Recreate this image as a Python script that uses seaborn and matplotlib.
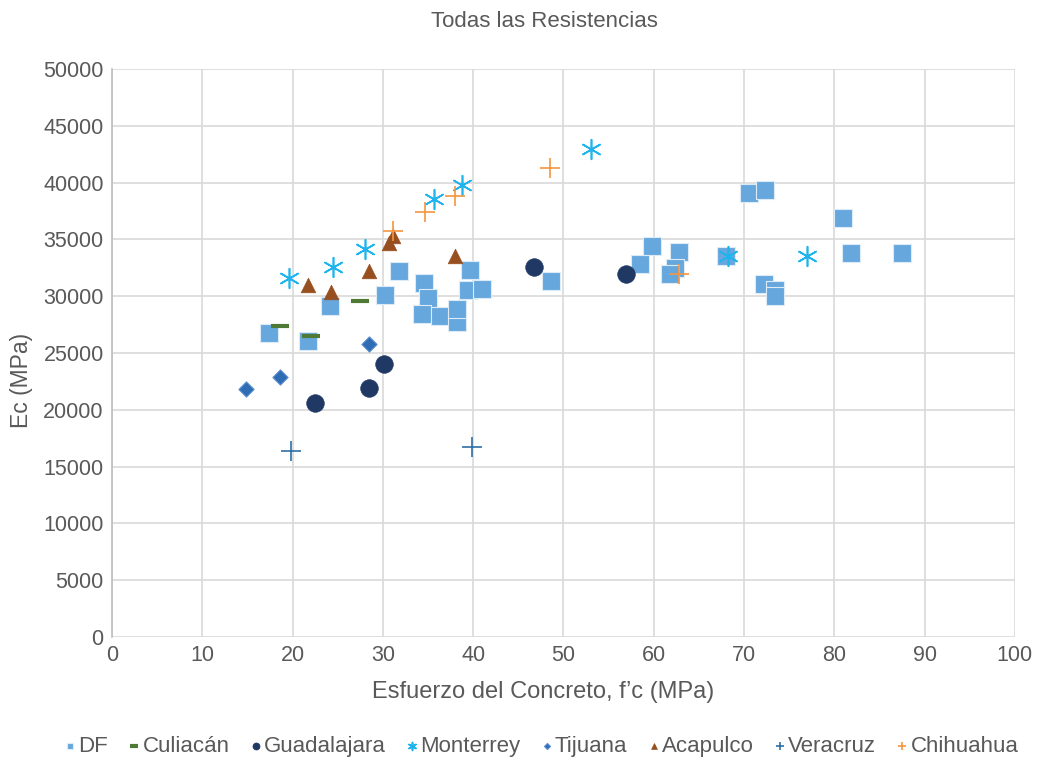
import matplotlib
matplotlib.use("Agg")
import matplotlib.pyplot as plt
import seaborn as sns
import pandas as pd

# Values: f'c (MPa), Ec (MPa)
df_x = [17.4, 21.7, 24.1, 30.2, 31.8, 34.6, 35.0, 34.3, 36.3, 38.2, 38.2, 39.6, 39.4, 41.0,
        48.6, 58.5, 59.8, 62.8, 62.3, 61.8, 68.0, 70.5, 72.3, 72.2, 73.4, 73.4, 81.0, 81.8, 87.5]
df_y = [26800, 26060, 29140, 30100, 32220, 31160, 29840, 28430, 28260, 27730, 28870, 32310, 30550, 30630,
        31340, 32830, 34420, 33890, 32480, 31950, 33540, 39080, 39350, 31070, 30550, 30020, 36880, 33800, 33800]

culiacan_x = [18.6, 22.0, 27.5]
culiacan_y = [27380, 26500, 29580]

guadalajara_x = [22.5, 28.5, 30.1, 46.7, 56.9]
guadalajara_y = [20600, 21920, 24030, 32570, 31950]

monterrey_x = [19.6, 24.5, 28.0, 35.7, 38.8, 53.0, 68.2, 77.0]
monterrey_y = [31600, 32570, 34150, 38560, 39790, 42960, 33540, 33540]

tijuana_x = [14.8, 18.6, 28.5]
tijuana_y = [21830, 22890, 25790]

acapulco_x = [21.7, 24.3, 28.5, 30.7, 31.1, 38.0]
acapulco_y = [30990, 30370, 32220, 34680, 35300, 33540]

veracruz_x = [19.8, 39.9]
veracruz_y = [16370, 16730]

chihuahua_x = [31.1, 34.7, 38.0, 48.5, 62.8]
chihuahua_y = [35740, 37410, 38820, 41290, 31950]

series = [
    ("DF", df_x, df_y, dict(marker="s", s=150, color="#66A8DE", edgecolor="#DDEBF7", linewidth=0.8)),
    ("Culiacán", culiacan_x, culiacan_y, dict(marker="_", s=170, color="#4F7A35", linewidth=3)),
    ("Guadalajara", guadalajara_x, guadalajara_y, dict(marker="o", s=160, color="#203864", edgecolor="#203864", linewidth=0.5)),
    ("Monterrey", monterrey_x, monterrey_y, dict(marker=(6, 2, 0), s=200, color="#1FB4EC", linewidth=1.2)),
    ("Tijuana", tijuana_x, tijuana_y, dict(marker="D", s=60, color="#2E6DB4", edgecolor="#5B8FCF", linewidth=0.8)),
    ("Acapulco", acapulco_x, acapulco_y, dict(marker="^", s=110, color="#974F1F", edgecolor="#974F1F", linewidth=0.5)),
    ("Veracruz", veracruz_x, veracruz_y, dict(marker="+", s=190, color="#2F6FA6", linewidth=1.2)),
    ("Chihuahua", chihuahua_x, chihuahua_y, dict(marker="+", s=190, color="#F5963F", linewidth=1.2)),
]

sns.set_theme(style="white")
plt.rcParams["font.family"] = ["Liberation Sans", "DejaVu Sans"]

fig = plt.figure(figsize=(10.42, 7.63), dpi=100)
ax = fig.add_axes([0.1075, 0.165, 0.8665, 0.7445])

for name, xs, ys, kw in series:
    data = pd.DataFrame({"fc": xs, "Ec": ys})
    sns.scatterplot(data=data, x="fc", y="Ec", ax=ax, label=name, zorder=3, **kw)

ax.set_xlim(0, 100)
ax.set_ylim(0, 50000)
ax.set_xticks(range(0, 101, 10))
ax.set_yticks(range(0, 50001, 5000))
ax.grid(True, color="#D9D9D9", linewidth=1.2)
ax.set_axisbelow(True)
for side in ["top", "right", "bottom"]:
    ax.spines[side].set_visible(False)
ax.spines["left"].set_color("#BFBFBF")
ax.spines["left"].set_linewidth(1.2)
ax.tick_params(axis="both", colors="#595959", labelsize=15.5, length=0, pad=6)

ax.set_xlabel("Esfuerzo del Concreto, f’c (MPa)", fontsize=17, color="#595959")
ax.set_ylabel("Ec (MPa)", fontsize=16.5, color="#595959")
ax.xaxis.set_label_coords(0.478, -0.077)
ax.yaxis.set_label_coords(-0.087, 0.4525)
fig.suptitle("Todas las Resistencias", fontsize=16, color="#595959", x=0.5225, y=0.985)

handles, labels = ax.get_legend_handles_labels()
ax.get_legend().remove()
fig.legend(handles, labels, loc="center", bbox_to_anchor=(0.52, 0.022), ncol=8, frameon=False,
           markerscale=0.4, handletextpad=0.15, columnspacing=0.95, handlelength=0.45,
           fontsize=16, labelcolor="#595959")

fig.savefig("out.png", dpi=100)
